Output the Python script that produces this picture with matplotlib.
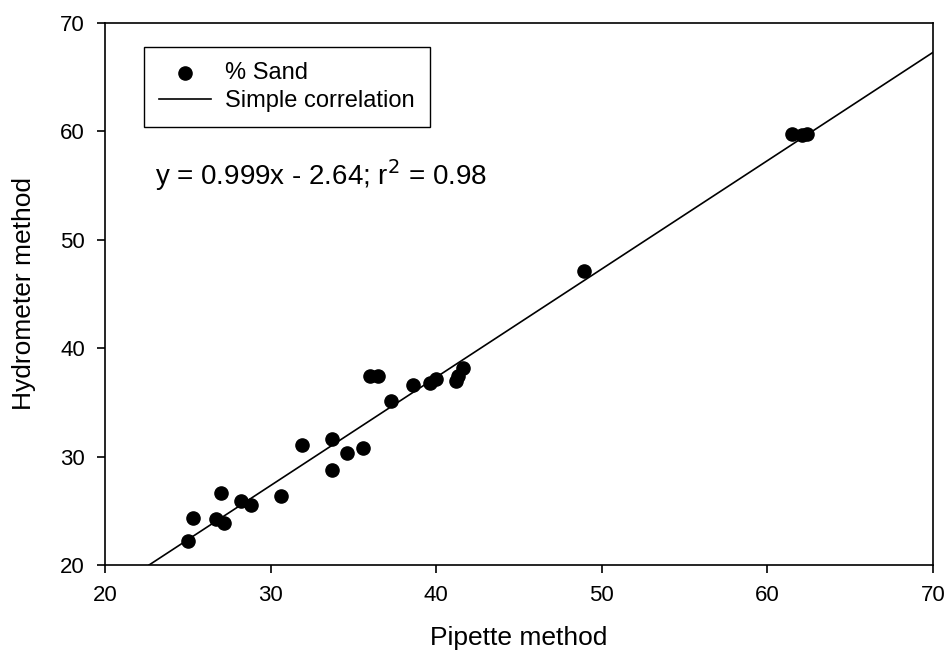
import numpy as np
import matplotlib.pyplot as plt

plt.rcParams['font.family'] = ['Liberation Sans', 'DejaVu Sans']

# % sand, pipette vs hydrometer
pipette = [25.0, 25.3, 26.7, 27.0, 27.2, 28.2, 28.8, 30.6, 31.9, 33.7, 33.7,
           34.6, 35.6, 36.0, 36.5, 37.3, 38.6, 39.6, 40.0, 41.2, 41.3, 41.6,
           48.9, 61.5, 62.1, 62.4]
hydrometer = [22.2, 24.3, 24.2, 26.6, 23.9, 25.9, 25.5, 26.4, 31.1, 31.6, 28.8,
              30.3, 30.8, 37.4, 37.4, 35.1, 36.6, 36.8, 37.2, 37.0, 37.4, 38.2,
              47.1, 59.8, 59.7, 59.8]
slope, intercept = 0.999, -2.64

fig = plt.figure(figsize=(9.47, 6.53), dpi=100)
ax = fig.add_axes([0.1109, 0.1348, 0.8743, 0.830])

ax.scatter(pipette, hydrometer, s=90, color='black', zorder=3, label='% Sand')
x_line = np.array([(20 - intercept) / slope, 70])
ax.plot(x_line, slope * x_line + intercept, color='black', lw=1.2,
        label='Simple correlation')

ax.set_xlim(20, 70)
ax.set_ylim(20, 70)
ax.set_xticks(range(20, 71, 10))
ax.set_yticks(range(20, 71, 10))
ax.tick_params(direction='out', length=5.5, width=1.2, labelsize=16,
               top=False, right=False, pad=9)
for sp in ax.spines.values():
    sp.set_linewidth(1.2)

ax.set_xlabel('Pipette method', fontsize=19)
ax.set_ylabel('Hydrometer method', fontsize=19)
ax.xaxis.set_label_coords(0.5, -0.112)
ax.yaxis.set_label_coords(-0.083, 0.5)

ax.text(23.0, 55.06, 'y = 0.999x - 2.64; r$^2$ = 0.98', fontsize=20,
        va='baseline', ha='left')

leg = ax.legend(loc='upper left', bbox_to_anchor=(0.047, 0.956),
                borderaxespad=0, fancybox=False, edgecolor='black',
                framealpha=1, fontsize=17, handlelength=2.2,
                handletextpad=0.6, borderpad=0.65, labelspacing=0.25)
leg.get_frame().set_linewidth(1.0)

fig.savefig('out.png', dpi=100)
